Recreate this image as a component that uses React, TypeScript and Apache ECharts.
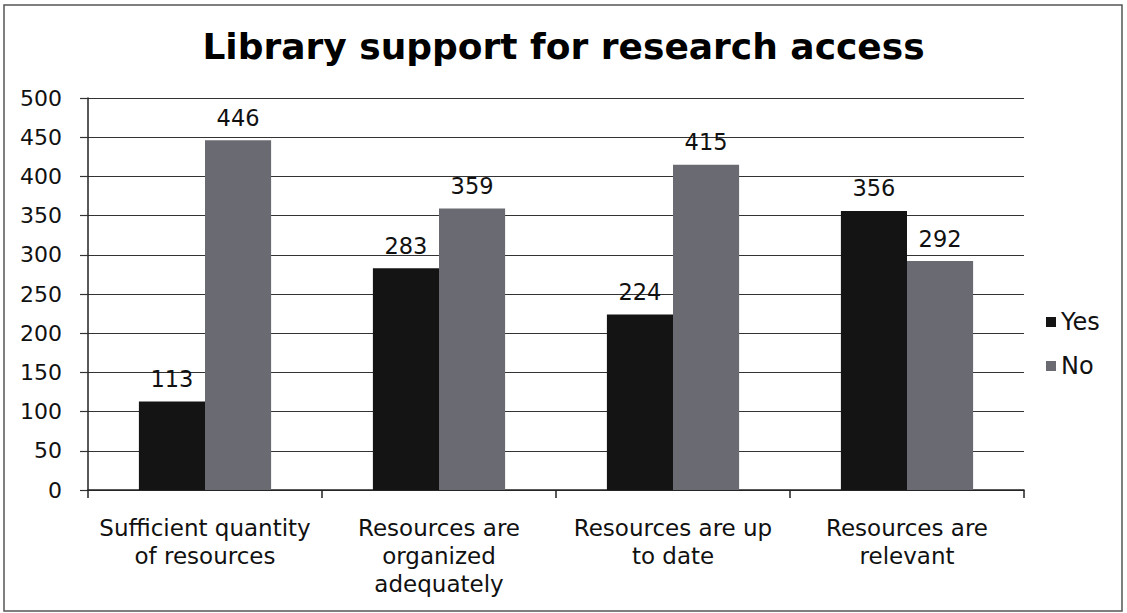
import React, { useEffect, useRef } from "react";
import * as echarts from "echarts";

const categories = [
  "Sufficient quantity\nof resources",
  "Resources are\norganized\nadequately",
  "Resources are up\nto date",
  "Resources are\nrelevant",
];
const yesValues = [113, 283, 224, 356];
const noValues = [446, 359, 415, 292];
const seriesNames = ["Yes", "No"];

const FONT = "'DejaVu Sans', Verdana, sans-serif";

export default function App() {
  const ref = useRef<HTMLDivElement>(null);

  useEffect(() => {
    if (!ref.current) return;
    const chart = echarts.init(ref.current, undefined, { renderer: "svg" });
    const labelStyle = {
      show: true,
      position: "top" as const,
      distance: 11,
      color: "#111",
      fontSize: 22.5,
      fontFamily: FONT,
    };
    chart.setOption({
      animation: false,
      backgroundColor: "#fff",
      title: {
        text: "Library support for research access",
        left: "center",
        top: 23,
        textStyle: {
          fontFamily: FONT,
          fontWeight: "bold",
          fontSize: 36,
          color: "#000",
        },
      },
      graphic: [
        {
          type: "rect",
          shape: { x: 4, y: 5, width: 1118, height: 606 },
          style: { fill: "none", stroke: "#555", lineWidth: 1.5 },
          silent: true,
        },
      ],
      legend: {
        orient: "vertical",
        left: 1041,
        top: 305,
        itemWidth: 10,
        itemHeight: 10,
        itemGap: 20,
        icon: "rect",
        textStyle: { fontFamily: FONT, fontSize: 24, color: "#111", padding: [0, 0, 0, 0] },
        data: seriesNames,
      },
      grid: { left: 88, right: 103, top: 98, bottom: 123 },
      xAxis: {
        type: "category",
        data: categories,
        boundaryGap: true,
        axisLine: { show: true, lineStyle: { color: "#222", width: 1.5 } },
        axisTick: { show: true, length: 8, lineStyle: { color: "#222", width: 1.5 } },
        axisLabel: {
          interval: 0,
          margin: 24,
          fontFamily: FONT,
          fontSize: 23,
          lineHeight: 28,
          color: "#111",
        },
      },
      yAxis: {
        type: "value",
        min: 0,
        max: 500,
        interval: 50,
        axisLine: { show: true, lineStyle: { color: "#222", width: 1.5 } },
        axisTick: { show: true, length: 8, lineStyle: { color: "#333", width: 1.2 } },
        splitLine: { show: true, lineStyle: { color: "#333", width: 1.2 } },
        axisLabel: {
          margin: 26,
          fontFamily: FONT,
          fontSize: 22,
          color: "#111",
        },
      },
      series: [
        {
          name: seriesNames[0],
          type: "bar",
          data: yesValues,
          barGap: "0%",
          barCategoryGap: "43.5%",
          itemStyle: { color: "#141414" },
          label: labelStyle,
        },
        {
          name: seriesNames[1],
          type: "bar",
          data: noValues,
          barGap: "0%",
          barCategoryGap: "43.5%",
          itemStyle: { color: "#6a6b72" },
          label: labelStyle,
        },
      ],
    });
    return () => chart.dispose();
  }, []);

  return (
    <div
      ref={ref}
      style={{ position: "fixed", left: 0, top: 0, width: 1127, height: 613 }}
    />
  );
}
